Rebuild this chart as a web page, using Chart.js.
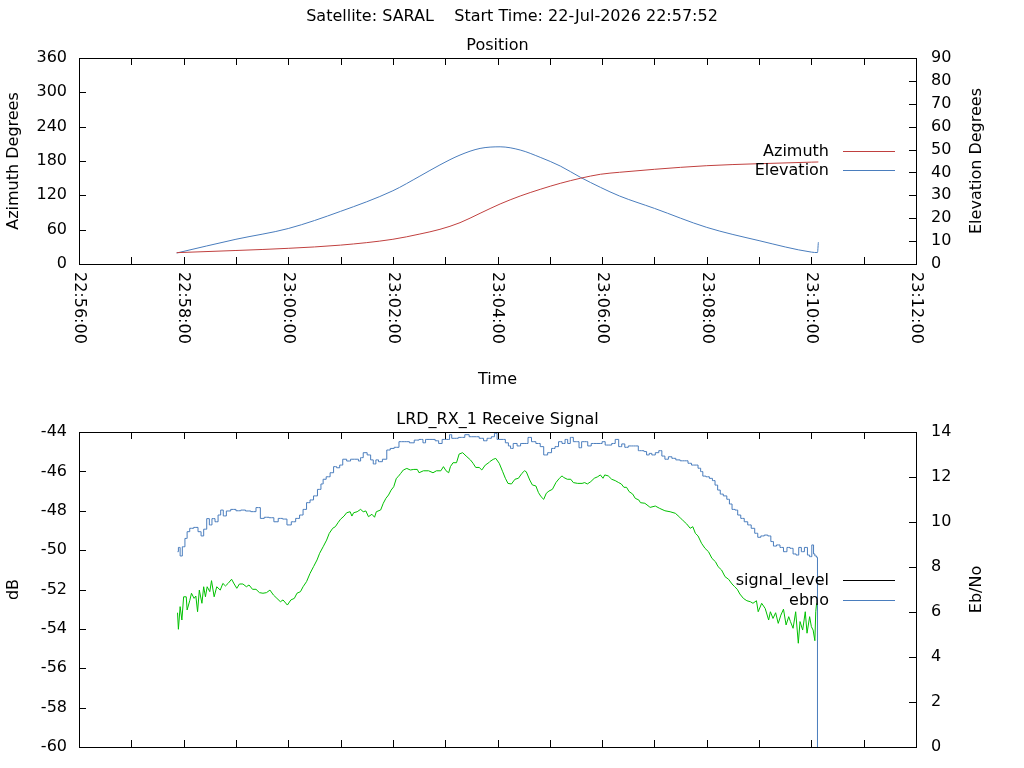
<!DOCTYPE html>
<html lang="en">
<head>
<meta charset="UTF-8">
<title>SARAL pass</title>
<script src="https://cdn.jsdelivr.net/npm/chart.js"></script>
<style>
  body { margin: 0; background: #fff; }
  canvas { position: absolute; left: 0; }
  #posChart { top: 0; }
  #rxChart { top: 390px; }
</style>
</head>
<body>
<canvas id="posChart" width="1024" height="390"></canvas>
<canvas id="rxChart" width="1024" height="378"></canvas>
<script>
// seconds after 22:56:00
const startOfAxis = 22 * 3600 + 56 * 60;

// Position plot
const posTime = [112, 180, 240, 300, 360, 391, 414, 437, 460, 483, 506, 529, 552, 575, 598, 620, 660, 720, 780, 840, 848];
const azimuth = [19.8, 23.6, 27.4, 33, 43.2, 52.4, 60.6, 72.2, 88.6, 104.9, 118.8, 130.5, 141, 149.8, 156.8, 160.3, 165.5, 171.8, 175.3, 178, 178.3];
const elevTime = [112, 180, 240, 300, 360, 391, 414, 437, 460, 483, 506, 529, 552, 575, 598, 620, 660, 720, 780, 840, 847, 848];
const elevation = [4.8, 10.8, 15.5, 23, 32, 38.4, 43.3, 47.6, 50.5, 51.2, 49.8, 46.6, 42.8, 37.9, 33.5, 29.7, 24.3, 16, 10.2, 5.2, 5.0, 9.5];

// Receive signal plot
const ebnoTime = [
  113, 115, 117, 120, 123, 125, 129, 134, 139, 141, 145, 148, 151, 154, 158, 161, 164, 167, 171, 177,
  183, 188, 194, 200, 206, 210, 215, 221, 226, 231, 236, 241, 246, 251, 255, 259, 263, 267, 271, 276,
  279, 281, 286, 290, 294, 297,
  301, 304, 310, 313, 319, 322, 324, 328, 333, 336, 339, 342, 345, 351, 355, 359, 364, 370, 376, 382,
  387, 393, 396, 399, 406, 411, 414, 419, 424, 426, 429, 433, 437, 440, 445, 450, 456, 462, 466, 470,
  471, 475, 478, 481, 487, 491, 494, 496, 500, 505, 508, 513, 517, 521, 527, 531, 535, 540, 544, 548,
  552, 556, 559, 562, 565, 569, 572, 575, 578, 582, 585, 590, 598, 602, 605, 609, 613, 617, 621, 624,
  628, 632, 636, 640, 643, 647, 649, 653,
  655, 659, 663, 667, 670, 674, 678, 682, 687, 692, 697, 700, 705, 708, 712, 714, 717, 721, 725, 728,
  731, 734, 737, 741, 745, 747, 751, 754, 757, 761, 765, 769, 773, 777, 780, 784, 788, 792, 795, 798,
  802, 806, 810, 814, 817, 821, 824, 827, 830, 834, 837, 839, 842, 843, 845, 847, 847
];
const ebno = [
  8.68, 8.87, 8.49, 8.90, 9.27, 9.57, 9.72, 9.76, 9.57, 9.38, 9.68, 10.15, 9.87, 10.15, 10.01, 10.31, 10.53, 10.27, 10.49, 10.56,
  10.50, 10.53, 10.49, 10.46, 10.64, 10.16, 10.21, 10.19, 10.01, 10.16, 10.13, 9.87, 10.01, 10.16, 10.31, 10.56, 10.86, 10.98, 11.16, 11.45,
  11.69, 11.90, 12.01, 12.19, 12.46, 12.41,
  12.53, 12.79, 12.71, 12.79, 12.79, 12.71, 12.86, 13.08, 12.98, 12.76, 12.58, 12.76, 12.68, 12.79, 13.20, 13.27, 13.32, 13.57, 13.57, 13.52,
  13.64, 13.67, 13.52, 13.67, 13.67, 13.61, 13.49, 13.67, 13.67, 13.88, 13.72, 13.72, 13.76, 13.76, 13.88, 13.79, 13.79, 13.72, 13.61, 13.72,
  13.72, 13.79, 13.94, 13.67, 13.67, 13.52, 13.38, 13.27, 13.49, 13.38, 13.49, 13.49, 13.76, 13.57, 13.49, 13.35, 12.98, 13.08, 13.27, 13.35,
  13.57, 13.49, 13.67, 13.49, 13.76, 13.57, 13.57, 13.30, 13.57, 13.57, 13.38, 13.49, 13.49, 13.57, 13.42, 13.42, 13.49, 13.67, 13.35, 13.47,
  13.32, 13.38, 13.38, 13.38, 13.17, 13.17, 13.13, 12.98,
  13.05, 12.98, 13.08, 13.17, 12.93, 12.79, 12.90, 12.83, 12.76, 12.72, 12.72, 12.61, 12.53, 12.53, 12.39, 12.24, 12.04, 12.01, 11.94, 11.84,
  11.64, 11.42, 11.24, 11.16, 11.01, 10.80, 10.56, 10.53, 10.31, 10.16, 10.01, 9.87, 9.72, 9.50, 9.32, 9.38, 9.42, 9.38, 9.13, 8.93,
  8.98, 8.87, 8.68, 8.87, 8.83, 8.58, 8.53, 8.87, 8.68, 8.87, 8.53, 8.46, 8.98, 8.58, 8.49, 8.43, 0
];
const signalTime = [
  113, 114, 116, 118, 120, 123, 124, 127, 129, 132, 134, 136, 138, 141, 143, 145, 147, 150, 152, 155,
  158, 162, 165, 168, 171, 175, 178, 181, 184, 188, 192, 195, 199, 203, 207, 211, 215, 219, 223, 227,
  231, 234, 239, 243, 247, 250, 254, 257, 261, 265, 269, 273, 276, 280, 284, 287, 291, 294, 297,
  300, 304, 307, 311, 313, 315, 319, 323, 326, 329, 332, 336, 339, 341, 346, 349, 352, 355, 358, 361,
  364, 366, 369, 372, 376, 380, 384, 388, 390, 395, 401, 406, 410, 415, 418, 421, 424, 426, 429, 433,
  436, 440, 444, 449, 452, 455, 459, 462, 466, 470,
  471, 475, 478, 482, 486, 489, 492, 496, 500, 504, 508, 511, 513, 517, 520, 524, 527, 530, 533, 536,
  539, 543, 547, 551, 554, 556, 560, 564, 567, 572, 577, 580, 583, 587, 591, 595, 598, 601, 603, 607,
  611, 615, 619, 622, 625, 628, 631, 635, 638, 642, 644, 649, 654,
  655, 661, 666, 672, 678, 684, 689, 693, 697, 701, 704, 707, 710, 714, 718, 722, 726, 730, 733, 737,
  741, 745, 749, 752, 755, 758, 762, 766, 770, 773, 777, 779, 783, 787, 791, 793, 796, 799, 802, 805,
  808, 811, 814, 816, 819, 822, 825, 827, 830, 833, 835, 838, 840, 842, 844, 845, 846
];
const signalLevel = [
  -53.18, -54.02, -52.87, -53.55, -52.37, -52.37, -53.04, -52.57, -52.19, -52.45, -52.33, -53.13, -52.03, -52.70, -51.86, -52.37, -51.86, -52.11, -51.55, -52.37,
  -51.86, -52.03, -51.69, -51.82, -51.69, -51.48, -51.72, -51.94, -51.72, -51.72, -51.86, -51.77, -51.99, -51.99, -52.16, -52.19, -52.16, -52.03, -52.28, -52.45,
  -52.62, -52.53, -52.79, -52.53, -52.45, -52.19, -52.11, -51.86, -51.60, -51.18, -50.84, -50.50, -50.16, -49.83, -49.49, -49.15, -48.89, -48.81, -48.61,
  -48.43, -48.27, -48.10, -48.05, -48.27, -48.10, -48.05, -47.93, -48.05, -48.01, -48.30, -48.18, -48.33, -48.05, -47.96, -47.62, -47.37, -47.20, -46.95, -46.78,
  -46.35, -46.27, -46.10, -45.93, -45.85, -45.93, -45.90, -45.90, -46.07, -45.97, -45.97, -46.07, -45.97, -45.97, -45.76, -45.97, -46.07, -45.76, -45.56, -45.56,
  -45.12, -45.05, -45.22, -45.42, -45.59, -45.80, -45.80, -45.93, -45.68, -45.56,
  -45.51, -45.39, -45.34, -45.59, -46.02, -46.35, -46.61, -46.64, -46.40, -46.35, -46.10, -45.97, -46.02, -46.44, -46.69, -46.74, -47.08, -47.29, -47.42, -47.11,
  -47.00, -46.91, -46.57, -46.35, -46.23, -46.31, -46.40, -46.40, -46.57, -46.61, -46.61, -46.57, -46.64, -46.52, -46.35, -46.27, -46.18, -46.35, -46.18, -46.23,
  -46.40, -46.47, -46.57, -46.64, -46.81, -46.81, -47.03, -47.15, -47.37, -47.45, -47.59, -47.62, -47.79,
  -47.83, -47.76, -47.88, -48.00, -48.05, -48.13, -48.33, -48.51, -48.67, -48.89, -48.81, -49.15, -49.28, -49.65, -49.91, -50.08, -50.42, -50.59, -50.84, -51.01,
  -51.35, -51.48, -51.72, -51.86, -51.99, -52.23, -52.45, -52.57, -52.62, -52.70, -52.57, -53.13, -52.70, -52.96, -53.55, -53.13, -53.47, -53.18, -53.72, -53.30,
  -53.00, -53.80, -53.38, -53.63, -53.97, -53.13, -54.73, -53.63, -54.06, -53.13, -54.22, -53.38, -53.89, -54.06, -54.60, -53.13, -52.70
];

const red = '#c0403f';
const blue = '#4a7dbd';
const green = '#00c000';

Chart.defaults.font.family = '"DejaVu Sans"';
Chart.defaults.font.size = 16;
Chart.defaults.color = '#000';

function pts(xs, ys) {
  return xs.map((x, i) => ({ x: x, y: ys[i] }));
}

function clock(sec) {
  const s = (startOfAxis + sec) % 86400;
  const p = n => String(n).padStart(2, '0');
  return p(Math.floor(s / 3600)) + ':' + p(Math.floor(s / 60) % 60) + ':' + p(s % 60);
}

// gnuplot style frame: border, inward ticks, titles, legend
const frame = {
  id: 'frame',
  afterDraw(chart, args, o) {
    const ctx = chart.ctx, a = chart.chartArea;
    const sx = chart.scales.x, sy = chart.scales.y, sy2 = chart.scales.y2;
    ctx.save();
    ctx.strokeStyle = '#000';
    ctx.lineWidth = 1;
    ctx.strokeRect(a.left + 0.5, a.top + 0.5, a.right - a.left, a.bottom - a.top);
    ctx.beginPath();
    sx.ticks.forEach(t => {
      const px = Math.round(sx.getPixelForValue(t.value)) + 0.5;
      ctx.moveTo(px, a.top); ctx.lineTo(px, a.top + 7);
      ctx.moveTo(px, a.bottom); ctx.lineTo(px, a.bottom - 7);
    });
    sy.ticks.forEach(t => {
      const py = Math.round(sy.getPixelForValue(t.value)) + 0.5;
      ctx.moveTo(a.left, py); ctx.lineTo(a.left + 7, py);
    });
    sy2.ticks.forEach(t => {
      const py = Math.round(sy2.getPixelForValue(t.value)) + 0.5;
      ctx.moveTo(a.right, py); ctx.lineTo(a.right - 7, py);
    });
    ctx.stroke();

    ctx.fillStyle = '#000';
    ctx.font = '16px "DejaVu Sans"';
    ctx.textAlign = 'center';
    ctx.textBaseline = 'middle';
    const midX = (a.left + a.right) / 2, midY = (a.top + a.bottom) / 2;
    if (o.mainTitle) ctx.fillText(o.mainTitle, chart.width / 2, 17);
    ctx.fillText(o.title, midX, a.top - 12);
    if (o.xTitle) ctx.fillText(o.xTitle, midX, a.bottom + 116);

    if (o.timeLabels) {
      ctx.textAlign = 'left';
      sx.ticks.forEach(t => {
        if (t.value % 120 !== 0) return;
        ctx.save();
        ctx.translate(sx.getPixelForValue(t.value), a.bottom + 8);
        ctx.rotate(Math.PI / 2);
        ctx.fillText(clock(t.value), 0, 0);
        ctx.restore();
      });
    }

    ctx.textAlign = 'center';
    [[o.yTitle, 14], [o.y2Title, 977]].forEach(([txt, x]) => {
      ctx.save();
      ctx.translate(x, midY);
      ctx.rotate(-Math.PI / 2);
      ctx.fillText(txt, 0, 0);
      ctx.restore();
    });

    chart.data.datasets.forEach((ds, i) => {
      const y = Math.round(a.top + o.legendY + i * 19.5) + 0.5;
      ctx.textAlign = 'right';
      ctx.fillText(ds.label, a.right - 87, y);
      ctx.strokeStyle = ds.legendColor;
      ctx.beginPath();
      ctx.moveTo(a.right - 73, y);
      ctx.lineTo(a.right - 21, y);
      ctx.stroke();
    });
    ctx.restore();
  }
};

function fixed(w, h) {
  return s => {
    if (w !== null) s.width = w;
    if (h !== null) s.height = h;
    s.paddingTop = 0; s.paddingBottom = 0; s.paddingLeft = 0; s.paddingRight = 0;
  };
}

function makeOptions(cfg) {
  return {
    responsive: false,
    animation: false,
    events: [],
    layout: { padding: { top: cfg.top, left: 0, right: 0, bottom: 0 } },
    elements: { point: { radius: 0 }, line: { borderWidth: 1 } },
    plugins: { legend: { display: false }, tooltip: { enabled: false }, frame: cfg.frame },
    scales: {
      x: {
        type: 'linear', min: 0, max: 960,
        ticks: { stepSize: 60, display: false },
        grid: { display: false, drawTicks: false }, border: { display: false },
        afterFit: fixed(null, cfg.xHeight)
      },
      y: {
        position: 'left', min: cfg.y[0], max: cfg.y[1],
        ticks: { stepSize: cfg.y[2], padding: 12, autoSkip: false },
        grid: { display: false, drawTicks: false }, border: { display: false },
        afterFit: fixed(79, null)
      },
      y2: {
        position: 'right', min: cfg.y2[0], max: cfg.y2[1],
        ticks: { stepSize: cfg.y2[2], padding: 15, autoSkip: false },
        grid: { display: false, drawTicks: false }, border: { display: false },
        afterFit: fixed(108, null)
      }
    }
  };
}

new Chart(document.getElementById('posChart'), {
  type: 'line',
  data: {
    datasets: [
      { label: 'Azimuth', data: pts(posTime, azimuth), yAxisID: 'y', borderColor: red, legendColor: red, cubicInterpolationMode: 'monotone' },
      { label: 'Elevation', data: pts(elevTime, elevation), yAxisID: 'y2', borderColor: blue, legendColor: blue, cubicInterpolationMode: 'monotone' }
    ]
  },
  options: makeOptions({
    top: 58, xHeight: 126, y: [0, 360, 60], y2: [0, 90, 10],
    frame: {
      mainTitle: 'Satellite: SARAL    Start Time: 22-Jul-2026 22:57:52',
      title: 'Position', xTitle: 'Time', timeLabels: true,
      yTitle: 'Azimuth Degrees', y2Title: 'Elevation Degrees', legendY: 92.7
    }
  }),
  plugins: [frame]
});

new Chart(document.getElementById('rxChart'), {
  type: 'line',
  data: {
    datasets: [
      { label: 'signal_level', data: pts(signalTime, signalLevel), yAxisID: 'y', borderColor: green, legendColor: '#000' },
      { label: 'ebno', data: pts(ebnoTime, ebno), yAxisID: 'y2', borderColor: blue, legendColor: blue, stepped: 'middle' }
    ]
  },
  options: makeOptions({
    top: 42, xHeight: 21, y: [-60, -44, 2], y2: [0, 14, 2],
    frame: {
      title: 'LRD_RX_1 Receive Signal', timeLabels: false,
      yTitle: 'dB', y2Title: 'Eb/No', legendY: 148
    }
  }),
  plugins: [frame]
});
</script>
</body>
</html>
